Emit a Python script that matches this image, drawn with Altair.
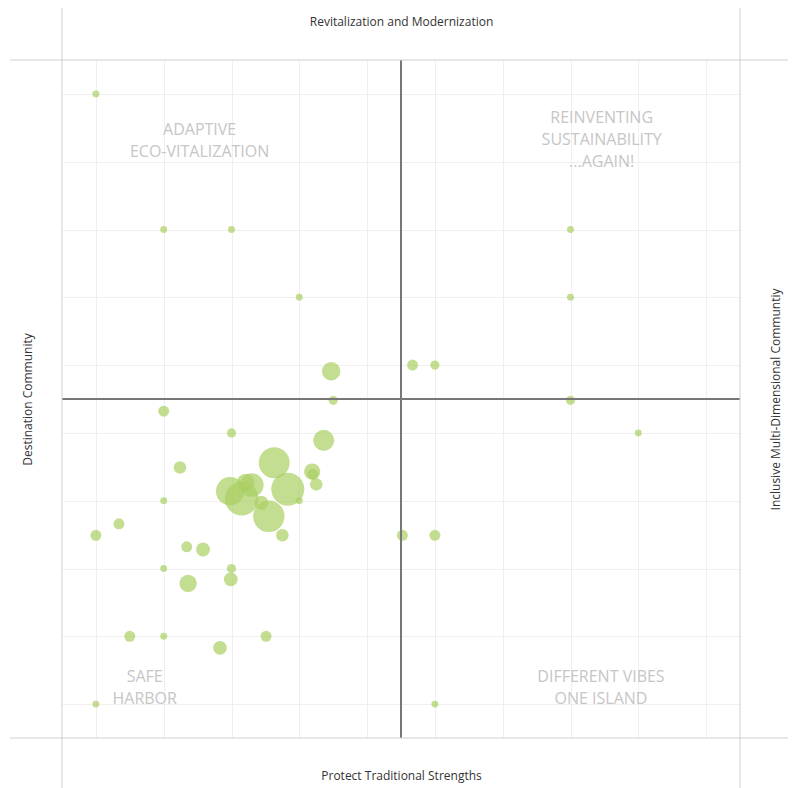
import altair as alt
import pandas as pd

# ---- data ----
protect_x = [1, 2, 3, 8, 4, 8, 5.67, 6, 4.47, 4.5, 8, 2, 3, 9, 4.36, 2.24, 3.63, 4.19, 4.2, 4.25,
             3.83, 2.98, 3.30, 3.21, 3.15, 3.44, 4, 2, 3.55, 3.75, 1.34, 1, 5.52, 6, 2.34, 2.58,
             2, 3, 2.99, 2.36, 1.5, 2, 3.51, 2.83, 1, 6]
revital_y = [10, 8, 8, 8, 7, 7, 6, 6, 5.91, 5.48, 5.48, 5.32, 5, 5, 4.89, 4.49, 4.56, 4.43, 4.39, 4.24,
             4.17, 4.14, 4.23, 4.27, 4.03, 3.97, 4, 4, 3.77, 3.49, 3.66, 3.49, 3.49, 3.49, 3.32, 3.28,
             3, 3, 2.84, 2.78, 2, 2, 2, 1.83, 1, 1]
responses = [1, 1, 1, 1, 1, 1, 3, 2, 9, 2, 2, 3, 2, 1, 12, 4, 26, 7, 3, 4,
             30, 22, 15, 8, 31, 5, 1, 1, 27, 4, 3, 3, 3, 3, 3, 5,
             1, 2, 5, 8, 3, 1, 3, 5, 1, 1]

quad_text = ["ADAPTIVE", "ECO-VITALIZATION", "REINVENTING", "SUSTAINABILITY", "...AGAIN!",
             "SAFE", "HARBOR", "DIFFERENT VIBES", "ONE ISLAND"]
quad_x = [2.53, 2.53, 8.46, 8.46, 8.46, 1.72, 1.72, 8.45, 8.45]
quad_y = [9.47, 9.14, 9.64, 9.32, 8.99, 1.40, 1.07, 1.40, 1.07]

grid_values = [1, 2, 3, 4, 5, 6, 7, 8, 9, 10]
mid_value = [5.5]
domain = [0.5, 10.5]

pts = pd.DataFrame({"x": protect_x, "y": revital_y, "responses": responses})
quads = pd.DataFrame({"label": quad_text, "x": quad_x, "y": quad_y})
mid = pd.DataFrame({"m": mid_value})

FONT = "Open Sans"
xs = alt.Scale(domain=domain, nice=False, zero=False)
ys = alt.Scale(domain=domain, nice=False, zero=False)

base_axis = dict(labels=False, ticks=False, domain=False, titleFont=FONT, titleFontSize=12,
                 titleFontWeight="normal", titleColor="#333333")

points = alt.Chart(pts).mark_circle(color="#a9cf63", opacity=0.7, clip=False).encode(
    x=alt.X("x:Q", scale=xs, axis=alt.Axis(title="Protect Traditional Strengths", orient="bottom",
                                           values=grid_values, grid=True, gridColor="#efefef",
                                           titlePadding=32, **base_axis)),
    y=alt.Y("y:Q", scale=ys, axis=alt.Axis(title="Destination Community", orient="left",
                                           values=grid_values, grid=True, gridColor="#efefef",
                                           titlePadding=28, **base_axis)),
    size=alt.Size("responses:Q", scale=alt.Scale(domain=[0, 31], range=[12, 1130]), legend=None),
)

vline = alt.Chart(mid).mark_rule(color="#777777", strokeWidth=2).encode(
    x=alt.X("m:Q", scale=xs, axis=alt.Axis(title="Revitalization and Modernization", orient="top",
                                           grid=False, titlePadding=32, **base_axis)),
)
hline = alt.Chart(mid).mark_rule(color="#777777", strokeWidth=2).encode(
    y=alt.Y("m:Q", scale=ys, axis=alt.Axis(title="Inclusive Multi-Dimensional Communtiy", orient="right",
                                           grid=False, titlePadding=30, titleAngle=270,
                                           titleBaseline="top", **base_axis)),
)

labels = alt.Chart(quads).mark_text(font=FONT, fontSize=16, color="#c6c6c6", align="center",
                                    baseline="middle").encode(
    x=alt.X("x:Q", scale=xs, axis=None), y=alt.Y("y:Q", scale=ys, axis=None), text="label:N")

one = alt.Data(values=[{"a": 1}])
FRAME = "#cfcfcf"
frame = [
    alt.Chart(one).mark_rule(color=FRAME, strokeWidth=1, clip=False).encode(
        x=alt.value(-52), x2=alt.value(730), y=alt.value(0)),
    alt.Chart(one).mark_rule(color=FRAME, strokeWidth=1, clip=False).encode(
        x=alt.value(-52), x2=alt.value(730), y=alt.value(678)),
    alt.Chart(one).mark_rule(color=FRAME, strokeWidth=1, clip=False).encode(
        y=alt.value(-53), y2=alt.value(730), x=alt.value(0)),
    alt.Chart(one).mark_rule(color=FRAME, strokeWidth=1, clip=False).encode(
        y=alt.value(-53), y2=alt.value(730), x=alt.value(678)),
]

chart = alt.layer(points, labels, vline, hline, *frame).resolve_axis(
    x="independent", y="independent"
).properties(
    width=678, height=678,
    autosize=alt.AutoSizeParams(type="none"),
    padding={"left": 54, "top": 52, "right": 48, "bottom": 50},
).configure_view(stroke=None)

chart.save("out.html", embed_options={"renderer": "svg", "actions": False})
